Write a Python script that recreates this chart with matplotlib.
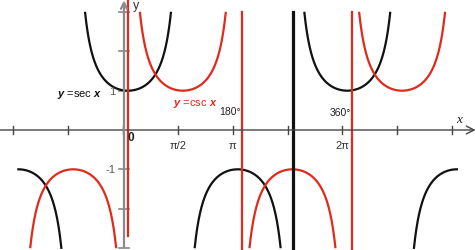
import numpy as np
import matplotlib
matplotlib.use('Agg')
import matplotlib.pyplot as plt

plt.rcParams['font.family'] = ['Liberation Sans', 'DejaVu Sans']
plt.rcParams['mathtext.fontset'] = 'custom'
plt.rcParams['mathtext.it'] = 'Liberation Sans:bold:italic'
plt.rcParams['mathtext.rm'] = 'Liberation Sans:bold'

# data
sec_domain = (-np.pi, 3 * np.pi)
csc_domain = (-np.pi, 3 * np.pi)
y_clip = 3.0
csc_asymptotes = [0.0, 3.27, 6.42]
csc_asym_top = [3.33, 3.0, 3.0]
csc_asym_bottom = [-2.70, -3.05, -3.05]
sec_asymptotes = [4.73]
x_tick_steps = [-2, -1, 0, 1, 2, 3, 4, 5, 6]   # multiples of pi/2
x_tick_labels = {1: 'π/2', 2: 'π', 4: '2π'}
y_ticks = [-3, -2, -1, 1, 2, 3]
y_tick_labels = {1: '1', -1: '-1'}
tick_shift = 0.14

RED = '#e02a1b'
BLACK = '#111111'

fig = plt.figure(figsize=(4.77, 2.51), dpi=100)
ax = fig.add_axes([0, 0, 1, 1])
ax.set_xlim(-3.668, 10.0)
ax.set_ylim(-3.053, 3.333)
ax.axis('off')


def pieces(f, lo, hi, poles):
    # split the domain at the poles so the branches are not joined
    edges = [lo] + [p for p in poles if lo < p < hi] + [hi]
    out = []
    for a, b in zip(edges[:-1], edges[1:]):
        x = np.linspace(a + 1e-4, b - 1e-4, 800)
        y = f(x)
        y[np.abs(y) > y_clip] = np.nan
        out.append((x, y))
    return out


sec_poles = [np.pi / 2 + k * np.pi for k in range(-3, 4)]
csc_poles = [k * np.pi for k in range(-2, 4)]

# axes
ax.annotate('', xy=(10.0, 0), xytext=(-3.668, 0),
            arrowprops=dict(arrowstyle='->', color='#444444', lw=1.0,
                            mutation_scale=14, shrinkA=0, shrinkB=1))
ax.annotate('', xy=(-0.115, 3.30), xytext=(-0.115, -2.98),
            arrowprops=dict(arrowstyle='->', color='#8a8a8a', lw=1.6,
                            mutation_scale=11, shrinkA=0, shrinkB=0))

for k in x_tick_steps:
    xt = k * np.pi / 2 - tick_shift
    ax.plot([xt, xt], [-0.11, 0.11], color='#444444', lw=1.0)
    if k in x_tick_labels:
        ax.text(xt, -0.25, x_tick_labels[k], ha='center', va='top',
                fontsize=8, color='#333333')
for yt in y_ticks:
    ax.plot([-0.115 - 0.15, -0.115 + 0.15], [yt, yt], color='#888888', lw=1.2)
    if yt in y_tick_labels:
        ax.text(-0.36, yt, y_tick_labels[yt], ha='right', va='center',
                fontsize=8, color='#555555')

# curves
for x, y in pieces(lambda t: 1 / np.cos(t), *sec_domain, sec_poles):
    ax.plot(x, y, color=BLACK, lw=1.6)
for x, y in pieces(lambda t: 1 / np.sin(t), *csc_domain, csc_poles):
    ax.plot(x, y, color=RED, lw=1.6)

# asymptotes
for xa, top, bot in zip(csc_asymptotes, csc_asym_top, csc_asym_bottom):
    ax.plot([xa, xa], [bot, top], color=RED, lw=1.6)
for xa in sec_asymptotes:
    ax.plot([xa, xa], [-3.05, 3.0], color=BLACK, lw=2.3)

# labels
ax.text(-1.375, 0.92, r'$y$ =sec $x$', ha='center', va='center',
        fontsize=8, color=BLACK)
ax.text(1.92, 0.69, r'$y$ =csc $x$', ha='center', va='center',
        fontsize=8, color=RED)
ax.text(3.22, 0.48, '180°', ha='right', va='center', fontsize=7.5, color='#222222')
ax.text(6.39, 0.46, '360°', ha='right', va='center', fontsize=7.5, color='#222222')
ax.text(0.09, -0.18, '0', ha='center', va='center', fontsize=8.5,
        fontweight='bold', color='#222222')
ax.text(9.48, 0.28, 'x', ha='center', va='center', fontsize=9.5,
        family='Liberation Serif', style='italic', color='#222222')
ax.text(0.22, 3.17, 'y', ha='center', va='center', fontsize=9,
        family='Liberation Sans', color='#333333')

fig.savefig('out.png', dpi=100)
